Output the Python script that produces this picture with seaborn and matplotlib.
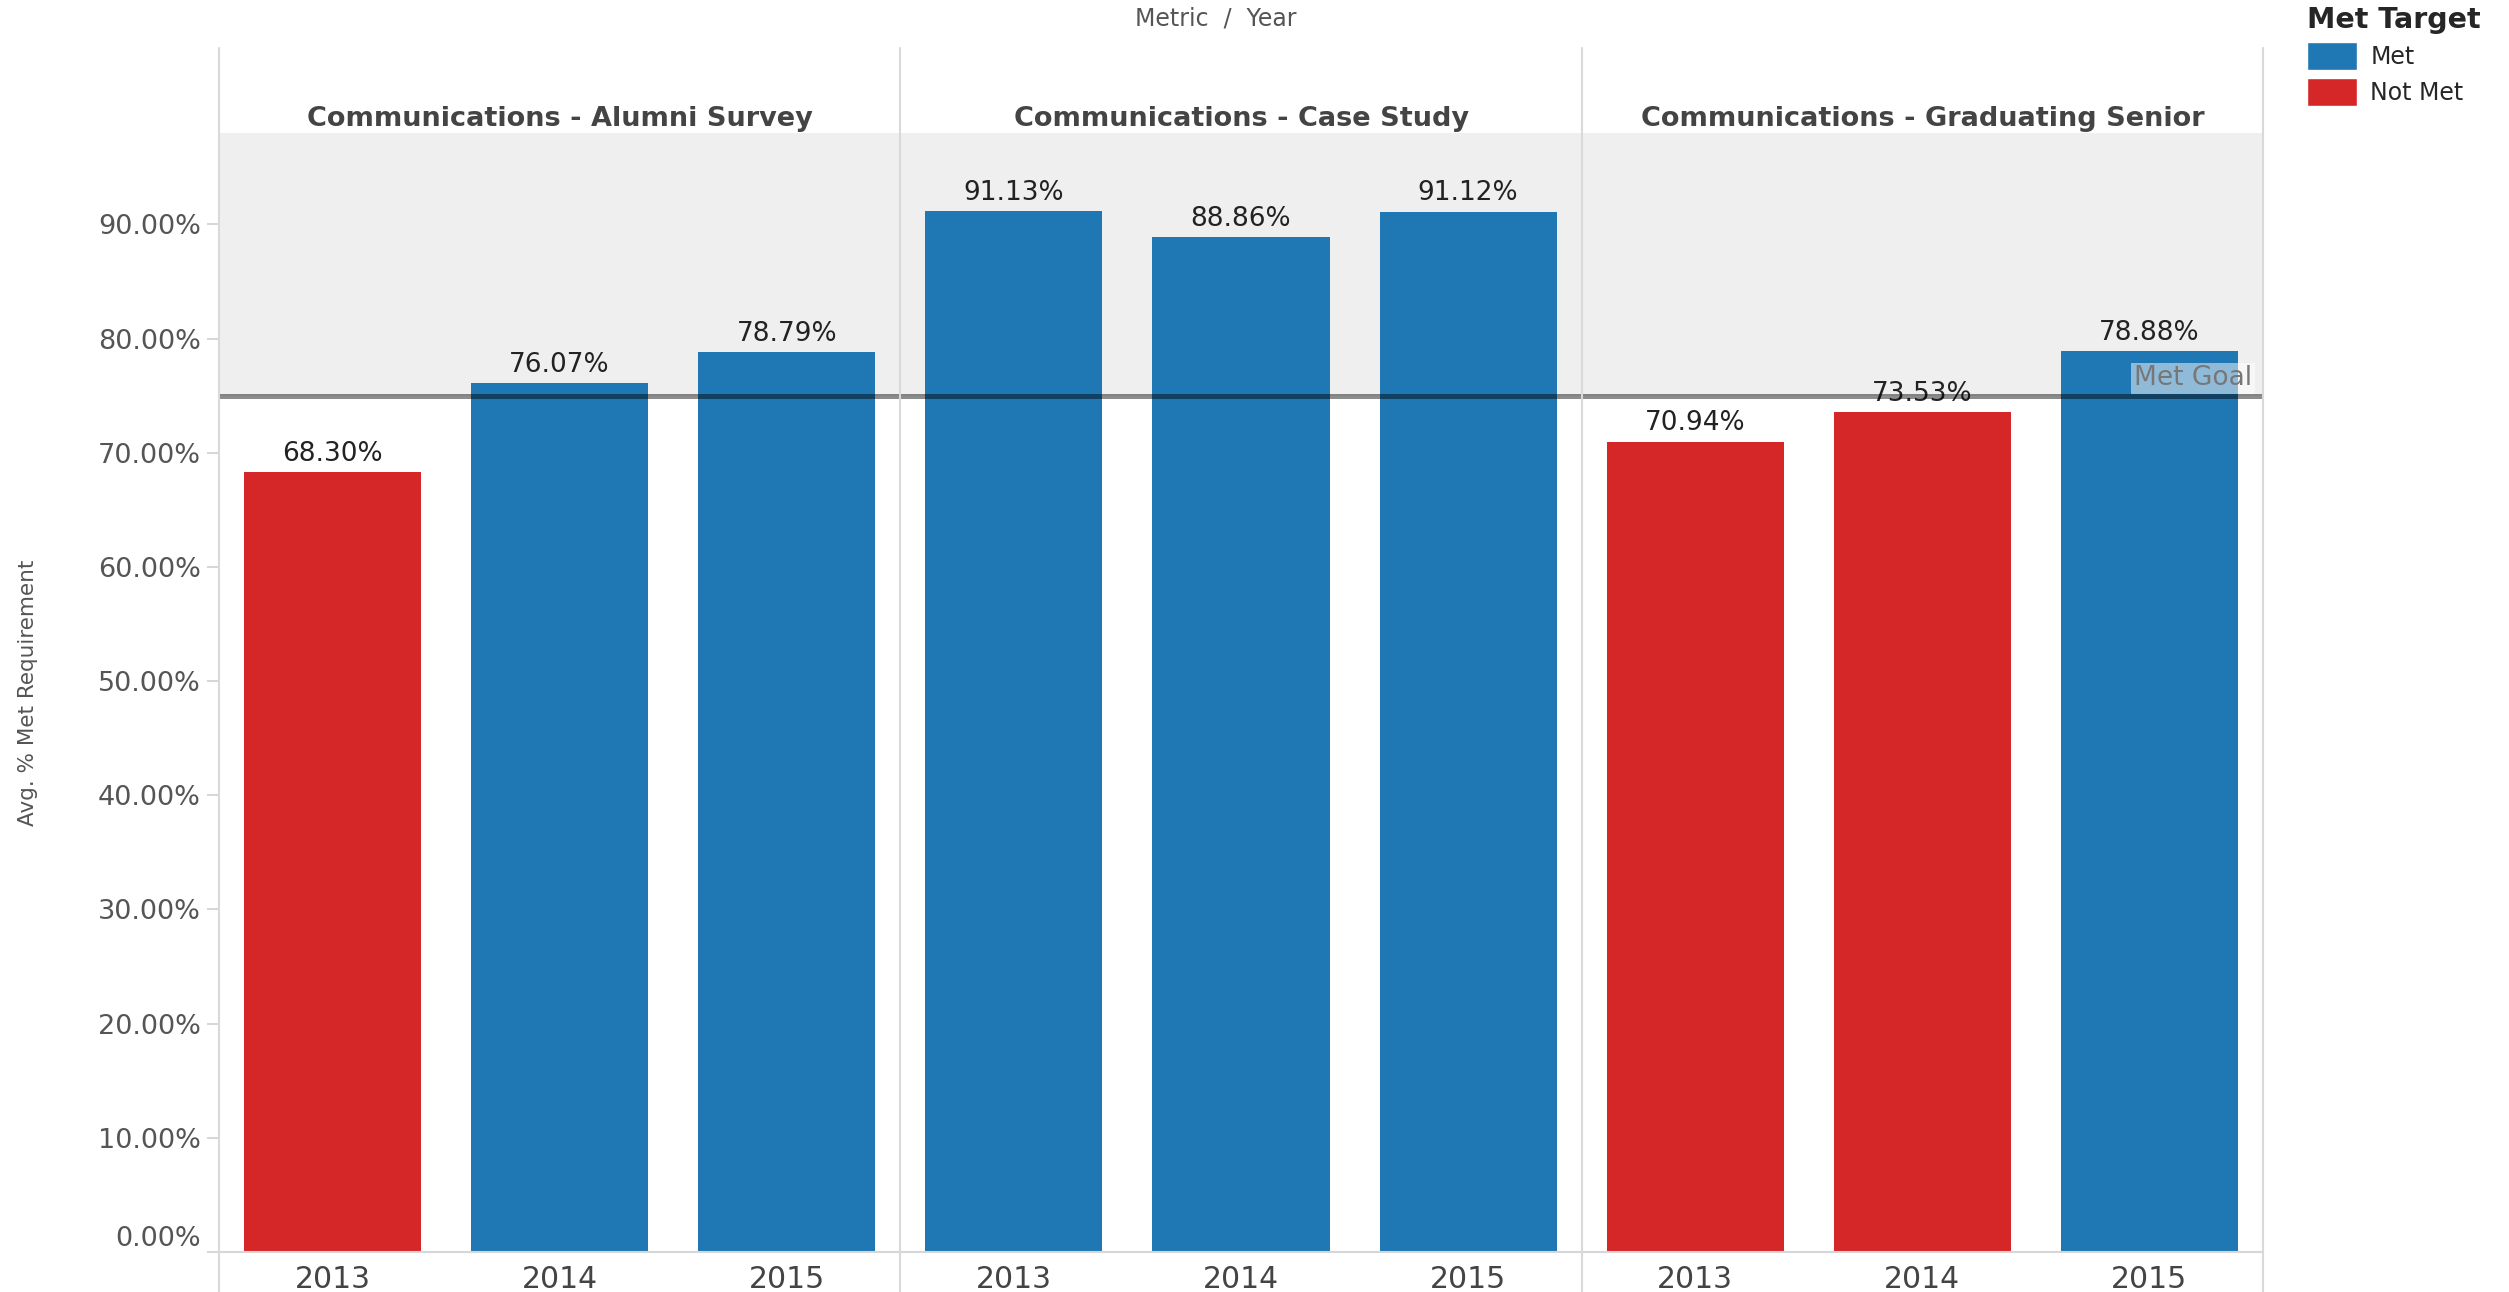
import numpy as np
import pandas as pd
import matplotlib.pyplot as plt
import seaborn as sns
from matplotlib.patches import Patch
from matplotlib.lines import Line2D
from matplotlib.ticker import FuncFormatter

# data
metrics = ["Communications - Alumni Survey", "Communications - Case Study", "Communications - Graduating Senior"]
years = ["2013", "2014", "2015"]
alumni_survey = [68.30, 76.07, 78.79]
case_study = [91.13, 88.86, 91.12]
graduating_senior = [70.94, 73.53, 78.88]
met_target = [["Not Met", "Met", "Met"],
              ["Met", "Met", "Met"],
              ["Not Met", "Not Met", "Met"]]
goal = 75
y_ticks = [0, 10, 20, 30, 40, 50, 60, 70, 80, 90]

rows = []
for m, vals, flags in zip(metrics, [alumni_survey, case_study, graduating_senior], met_target):
    for yr, v, f in zip(years, vals, flags):
        rows.append({"Metric": m, "Year": yr, "Value": v, "Met Target": f})
df = pd.DataFrame(rows)

sns.set_style("white")
plt.rcParams["font.family"] = ["DejaVu Sans"]

colors = {"Met": "#1f77b4", "Not Met": "#d62728"}

W, H = 2509, 1292
fig = plt.figure(figsize=(W / 100, H / 100), dpi=100)

left, right, bottom, top = 219, 2263, 1252, 133
pw = (right - left) / 3
axes = []
for i, m in enumerate(metrics):
    ax = fig.add_axes([(left + i * pw) / W, (H - bottom) / H, pw / W, (bottom - top) / H],
                      sharey=axes[0] if axes else None)
    axes.append(ax)
    sub = df[df["Metric"] == m]
    ax.axhspan(goal, 98, color="#efefef", lw=0, zorder=0)
    sns.barplot(data=sub, x="Year", y="Value", hue="Met Target", hue_order=["Met", "Not Met"],
                palette=colors, dodge=False, width=0.78, errorbar=None, legend=False,
                saturation=1, linewidth=0, edgecolor="none", ax=ax, zorder=2)
    for c in ax.containers:
        ax.bar_label(c, fmt="%.2f%%", padding=4, fontsize=19, color="#222", zorder=3)
    ax.axhline(goal, color="black", alpha=0.45, lw=3.6, zorder=4)
    ax.set_xlim(-0.5, 2.5)
    ax.set_ylim(0, 98)
    ax.set_xlabel("")
    ax.set_ylabel("")
    ax.set_title(m, fontsize=19.5, fontweight="bold", color="#444", pad=5)
    for s in ["top", "right", "left"]:
        ax.spines[s].set_visible(False)
    ax.spines["bottom"].set_color("#d6d6d6")
    ax.spines["bottom"].set_linewidth(1.5)
    ax.set_xticks([0.5, 1.5], minor=True)
    ax.tick_params(axis="x", which="major", length=0, pad=9, labelsize=21.5, labelcolor="#444")
    ax.tick_params(axis="x", which="minor", length=10, width=1.2, color="#d0d0d0")
    if i > 0:
        ax.tick_params(axis="y", left=False, labelleft=False)

ax0 = axes[0]
ax0.set_yticks(y_ticks)
ax0.yaxis.set_major_formatter(FuncFormatter(lambda v, _: f"{v:.2f}%"))
ax0.tick_params(axis="y", left=True, length=9, width=1.2, color="#d0d0d0", pad=4,
                labelsize=19.5, labelcolor="#555")
ax0.get_yticklabels()[0].set_va("bottom")
ax0.set_ylabel("Avg. % Met Requirement", fontsize=15.5, color="#555")
ax0.yaxis.set_label_coords(-0.265, 0.5)

# panel dividers
for i in range(4):
    x = (left + i * pw) / W
    fig.add_artist(Line2D([x, x], [0, (H - 48) / H], transform=fig.transFigure,
                          color="#d9d9d9", lw=1.5))

# goal label
ax2 = axes[2]
ax2.annotate("Met Goal", xy=(1, goal), xycoords=ax2.get_yaxis_transform(),
             xytext=(-8, 3), textcoords="offset points", ha="right", va="bottom",
             fontsize=19, color="#777",
             bbox=dict(boxstyle="square,pad=0.1", fc="white", ec="none", alpha=0.5), zorder=5)

fig.text(1216 / W, 1 - 19 / H, "Metric  /  Year", ha="center", va="center", fontsize=17, color="#555")

handles = [Patch(facecolor=colors["Met"], label="Met"), Patch(facecolor=colors["Not Met"], label="Not Met")]
fig.legend(handles=handles, title="Met Target", loc="upper left", bbox_to_anchor=(2302 / W, 1 - 1 / H),
           frameon=False, fontsize=17, title_fontproperties={"weight": "bold", "size": 20.5},
           handlelength=2.15, handleheight=1.45, handletextpad=0.55, labelspacing=0.35,
           alignment="left", borderaxespad=0, borderpad=0.2)

fig.savefig("out.png", dpi=100)
